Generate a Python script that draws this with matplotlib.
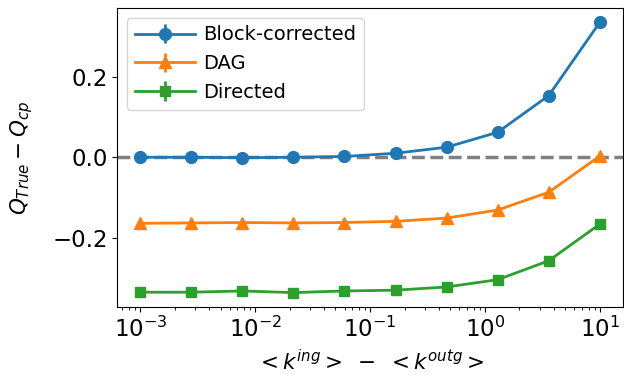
import matplotlib
matplotlib.use("Agg")
import matplotlib.pyplot as plt

x = [1e-3, 2.78e-3, 7.74e-3, 2.15e-2, 5.99e-2, 0.167, 0.464, 1.29, 3.59, 10.0]
block = [0.0, 0.0, -0.001, 0.0, 0.002, 0.010, 0.025, 0.062, 0.153, 0.335]
dag = [-0.164, -0.163, -0.162, -0.163, -0.162, -0.159, -0.151, -0.131, -0.087, 0.003]
directed = [-0.335, -0.335, -0.332, -0.336, -0.332, -0.330, -0.322, -0.304, -0.257, -0.166]
err = [0.002] * 10

plt.rcParams['font.size'] = 14
fig, ax = plt.subplots(figsize=(6.24, 3.79), dpi=100)
ax.axhline(0, color='gray', linestyle='--', linewidth=2.5, zorder=0)
ax.errorbar(x, block, yerr=err, marker='o', color='#1f77b4', lw=2, ms=8.5, label='Block-corrected')
ax.errorbar(x, dag, yerr=err, marker='^', color='#ff7f0e', lw=2, ms=8.5, label='DAG')
ax.errorbar(x, directed, yerr=err, marker='s', color='#2ca02c', lw=2, ms=7, label='Directed')
ax.set_xscale('log')
ax.set_yticks([-0.2, 0.0, 0.2])
ax.tick_params(labelsize=16.5)
ax.set_xlabel(r'$<k^{ing}>\ -\ <k^{outg}>$', fontsize=15.5, labelpad=5)
ax.set_ylabel(r'$Q_{True} - Q_{cp}$', fontsize=15.5, labelpad=12)
ax.legend(loc='upper left', fontsize=14, handlelength=3.1, handletextpad=0.4)
fig.subplots_adjust(left=0.188, right=0.998, top=0.979, bottom=0.19)
fig.savefig('out.png')
